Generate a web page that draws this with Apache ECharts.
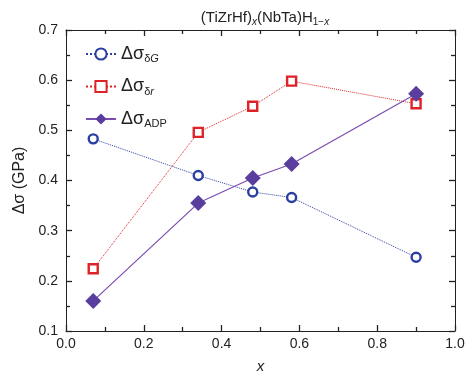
<!DOCTYPE html>
<html><head><meta charset="utf-8">
<script src="https://cdn.jsdelivr.net/npm/echarts@6/dist/echarts.min.js"></script>
<style>html,body{margin:0;padding:0;background:#fff}#c{width:466px;height:372px}</style>
</head><body><div id="c"></div>
<script>
const xValues = [0.07, 0.34, 0.48, 0.58, 0.90];
const sigmaDG = [0.483, 0.410, 0.377, 0.366, 0.247];
const sigmaDr = [0.224, 0.496, 0.548, 0.598, 0.553];
const sigmaADP = [0.160, 0.355, 0.405, 0.433, 0.573];
const seriesNames = ['dG', 'dr', 'ADP'];
const xTicks = [0.0, 0.2, 0.4, 0.6, 0.8, 1.0];
const yTicks = [0.1, 0.2, 0.3, 0.4, 0.5, 0.6, 0.7];

const FONT = 'Liberation Sans, Arial, sans-serif';
const pair = (xs, ys) => xs.map((x, i) => [x, ys[i]]);
const tickFmt = ticks => v => {
  const t = ticks.find(k => Math.abs(k - v) < 1e-6);
  return t === undefined ? '' : t.toFixed(1);
};
const chart = echarts.init(document.getElementById('c'));

function axisCommon() {
  return {
    axisLine: {show: true, onZero: false, lineStyle: {color: '#222', width: 1}},
    axisTick: {show: true, inside: true, length: 6, lineStyle: {color: '#222', width: 1.3}},
    minorTick: {show: true, splitNumber: 2, length: 4, lineStyle: {color: '#222', width: 1.3}},
    splitLine: {show: false}
  };
}

chart.setOption({
  animation: false,
  title: {
    text: '(TiZrHf){si|x}(NbTa)H{s|1\u2212}{si|x}',
    left: 260, textAlign: 'center', top: 4,
    textStyle: {
      fontFamily: FONT, fontSize: 15, fontWeight: 'normal', color: '#222',
      rich: {
        s: {fontFamily: FONT, fontSize: 10, color: '#222', padding: [8, 0, 0, 0]},
        si: {fontFamily: FONT, fontSize: 10, fontStyle: 'italic', color: '#222', padding: [8, 0, 0, 0]}
      }
    }
  },
  legend: {
    orient: 'vertical', left: 80, top: 40,
    itemWidth: 30, itemHeight: 14, itemGap: 13,
    data: seriesNames,
    formatter: function (n) {
      if (n === 'dG') return '{a|\u0394\u03c3}{s|\u03b4}{si|G}';
      if (n === 'dr') return '{a|\u0394\u03c3}{s|\u03b4}{si|r}';
      return '{a|\u0394\u03c3}{s|ADP}';
    },
    textStyle: {
      fontFamily: FONT, color: '#222',
      rich: {
        a: {fontFamily: FONT, fontSize: 18, color: '#222'},
        s: {fontFamily: FONT, fontSize: 11, color: '#222', padding: [10, 0, 0, 0]},
        si: {fontFamily: FONT, fontSize: 11, fontStyle: 'italic', color: '#222', padding: [10, 0, 0, 0]}
      }
    }
  },
  grid: {left: 66, right: 11, top: 30, bottom: 41, outerBoundsMode: 'none'},
  xAxis: [
    Object.assign(axisCommon(), {
      type: 'value', min: 0, max: 1, interval: 0.2, position: 'bottom',
      name: 'x', nameLocation: 'middle', nameGap: 28,
      nameTextStyle: {fontFamily: FONT, fontSize: 15, fontStyle: 'italic', color: '#222'},
      axisLabel: {fontFamily: FONT, fontSize: 14, color: '#222', margin: 6, formatter: tickFmt(xTicks)}
    }),
    Object.assign(axisCommon(), {
      type: 'value', min: 0, max: 1, interval: 0.2, position: 'top',
      axisLabel: {show: false}
    })
  ],
  yAxis: [
    Object.assign(axisCommon(), {
      type: 'value', min: 0.1, max: 0.7, interval: 0.1, position: 'left',
      name: '\u0394\u03c3 (GPa)', nameLocation: 'middle', nameGap: 38,
      nameTextStyle: {fontFamily: FONT, fontSize: 16, color: '#222'},
      axisLabel: {fontFamily: FONT, fontSize: 14, color: '#222', margin: 8, formatter: tickFmt(yTicks)}
    }),
    Object.assign(axisCommon(), {
      type: 'value', min: 0.1, max: 0.7, interval: 0.1, position: 'right',
      axisLabel: {show: false}
    })
  ],
  series: [
    {
      name: 'dG', type: 'line', data: pair(xValues, sigmaDG),
      symbol: 'circle', symbolSize: 9,
      itemStyle: {color: '#fff', borderColor: '#2a3fa0', borderWidth: 2.4},
      lineStyle: {color: '#2a3fa0', type: 'dotted', width: 1}
    },
    {
      name: 'dr', type: 'line', data: pair(xValues, sigmaDr),
      symbol: 'rect', symbolSize: 9,
      itemStyle: {color: '#fff', borderColor: '#dd2228', borderWidth: 2.4},
      lineStyle: {color: '#dd2228', type: 'dotted', width: 1}
    },
    {
      name: 'ADP', type: 'line', data: pair(xValues, sigmaADP),
      symbol: 'diamond', symbolSize: [16, 16],
      itemStyle: {color: '#5a3e9e', borderWidth: 0},
      lineStyle: {color: '#7a4cb0', width: 1.2}
    }
  ]
});
</script></body></html>
